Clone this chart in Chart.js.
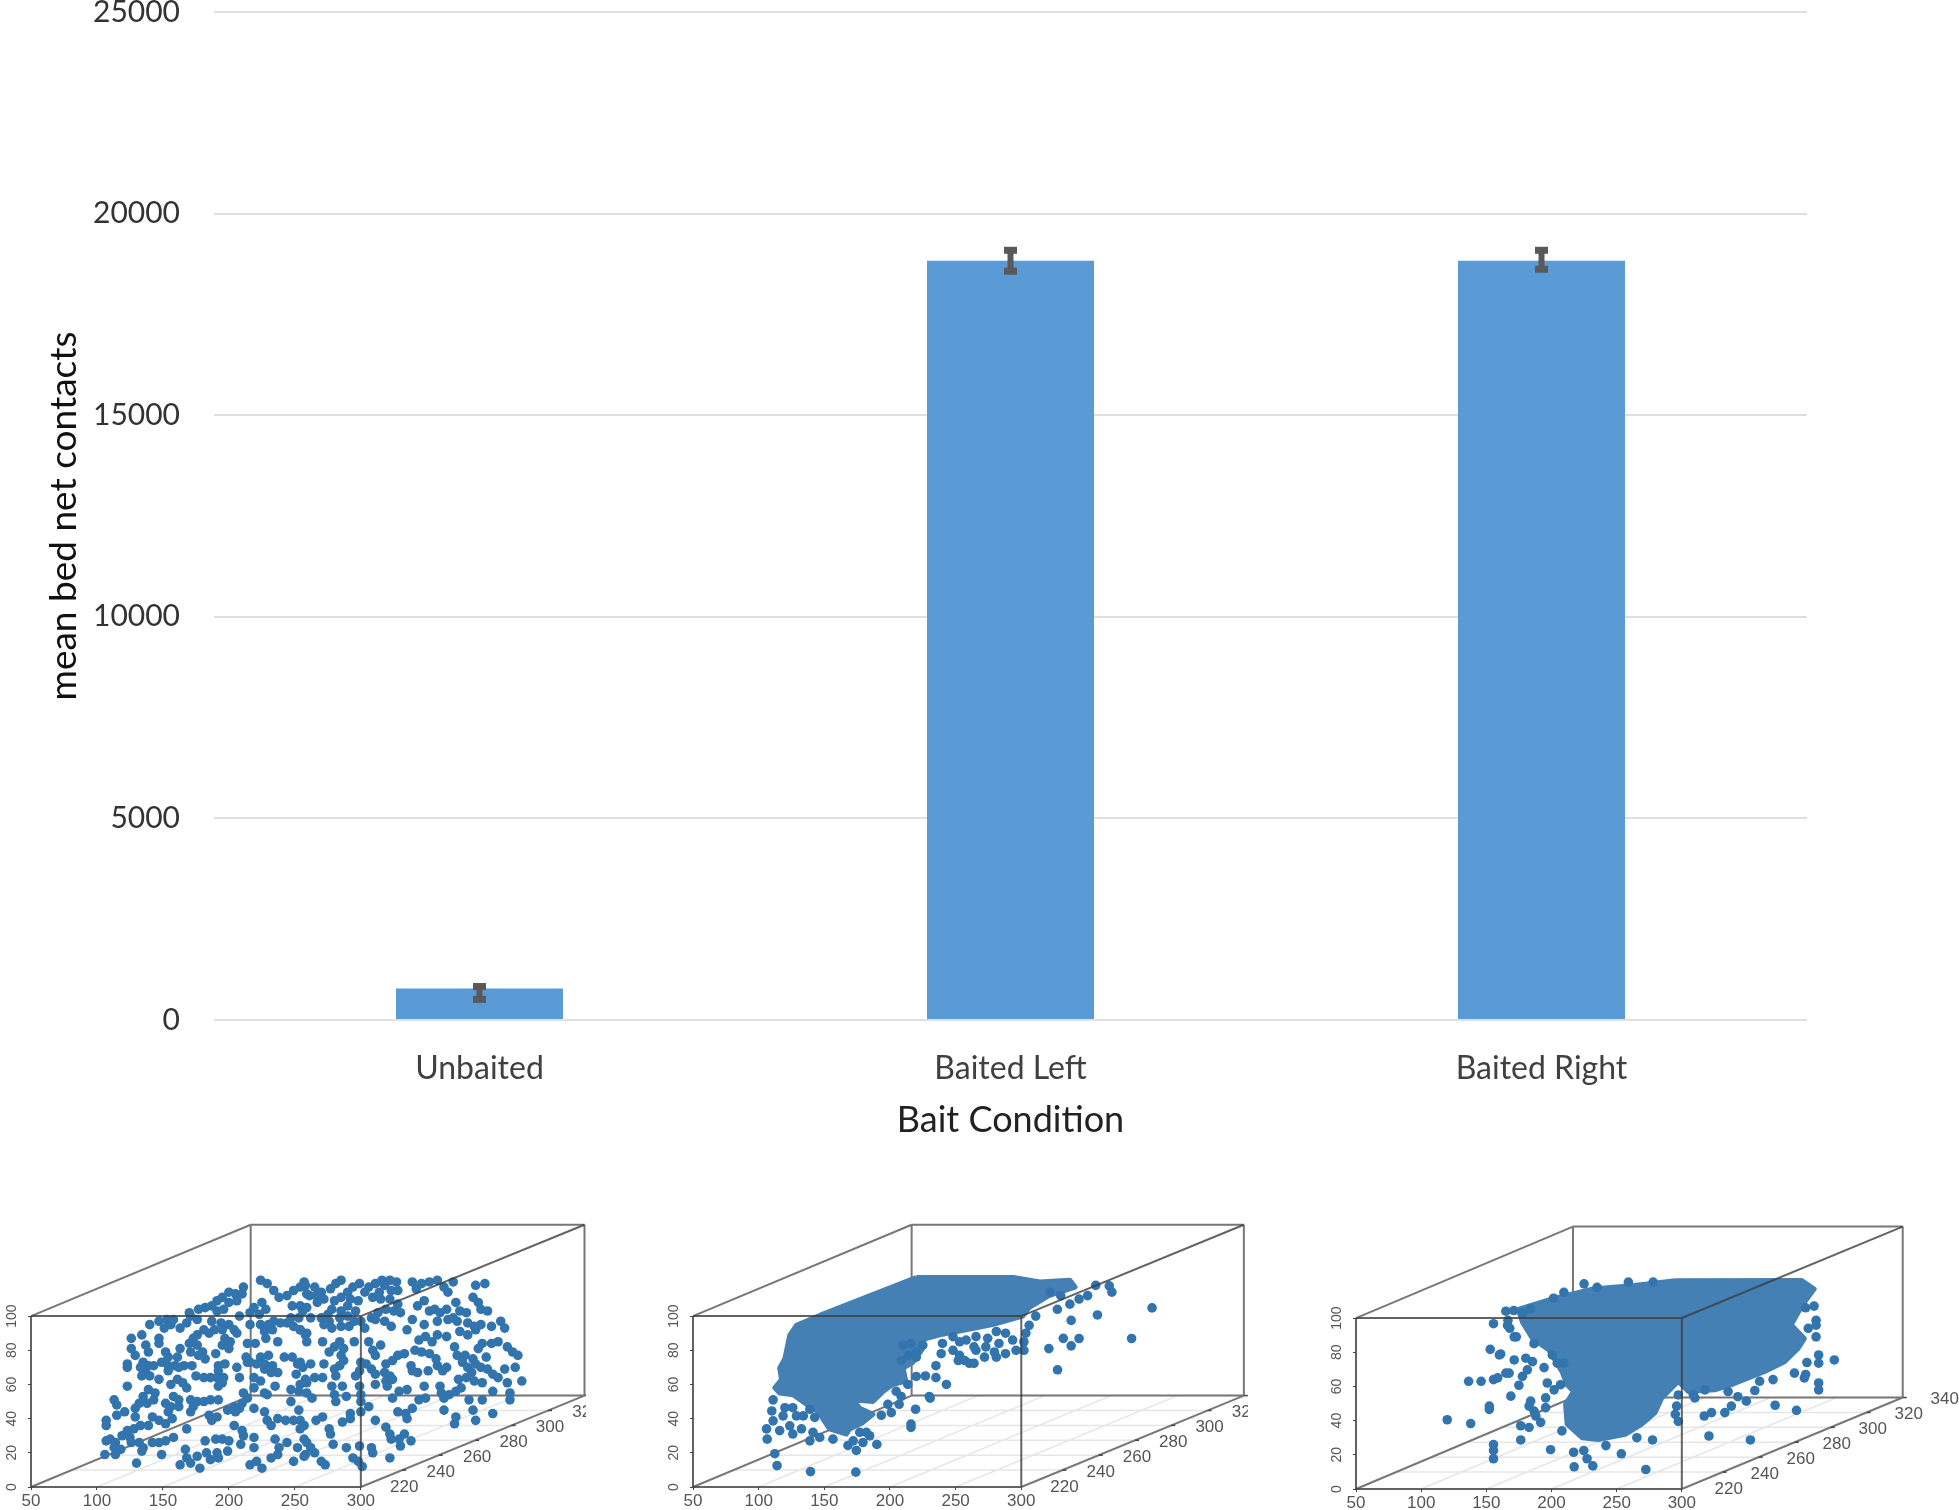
<!DOCTYPE html>
<html><head><meta charset="utf-8">
<script src="https://cdn.jsdelivr.net/npm/chart.js@4"></script>
<style>
html,body{margin:0;padding:0;background:#fff;width:1959px;height:1510px;overflow:hidden}
canvas{position:absolute;display:block}
#main{left:0;top:-40px;filter:blur(.5px)}
.mini{top:1200px;filter:blur(.7px)}
</style></head><body>
<canvas id="main" width="1959" height="1230"></canvas>
<canvas id="s1" class="mini" style="left:0" width="586" height="310"></canvas>
<canvas id="s2" class="mini" style="left:640px" width="608" height="310"></canvas>
<canvas id="s3" class="mini" style="left:1300px" width="659" height="310"></canvas>
<script>
// ---------- bar chart values ----------
const categories = ['Unbaited','Baited Left','Baited Right'];
const meanContacts = [780,18830,18830];
const errLow  = [510,18570,18620];
const errHigh = [830,19090,19090];
const yTickStep = 5000;
const yTickMax = 25000;

// ---------- 3D panel tick labels ----------
const panelXTicks = [50,100,150,200,250,300];
const panelZTicks = [0,20,40,60,80,100];
const depthTicksA = [220,240,260,280,300,320];
const depthTicksB = [220,240,260,280,300,320];
const depthTicksC = [220,240,260,280,300,320,340];

// ---------- 3D panels: points read in the plane of the front face (x 50-300, z 0-100) ----------
const unbaitedPts = [224,121,229,119,234,115,238,111,244,112,249,115,254,117,257,120,259,113,248,106,254,106,
211,117,210,113,205,113,200,114,195,111,191,109,187,106,182,105,177,104,170,102,206,109,200,108,191,103,196,104,219,105,225,108,228,104,216,102,223,101,208,100,
140,95,147,97,153,98,158,98,151,93,156,95,163,93,168,96,171,100,176,98,187,97,194,96,200,95,204,92,206,90,181,92,176,89,185,90,189,92,195,92,197,87,201,85,200,81,195,83,216,95,224,95,230,95,234,97,239,96,244,96,249,94,254,92,259,90,253,99,247,99,233,92,227,91,
126,87,134,89,147,87,147,84,137,83,139,79,126,81,129,77,163,81,170,84,176,83,173,87,180,79,177,77,182,75,171,79,152,79,154,76,161,76,190,78,214,84,220,84,228,87,237,85,213,76,214,73,216,73,
123,72,123,70,135,73,139,71,143,71,133,70,137,67,134,65,140,65,147,63,149,73,154,71,159,71,166,71,172,71,154,68,162,70,192,71,197,72,192,68,191,64,196,64,195,61,192,59,175,65,181,64,186,64,206,70,208,64,221,72,227,72,224,76,230,77,242,76,248,76,252,72,256,70,237,67,232,67,227,69,233,71,251,66,
123,59,156,60,161,63,165,61,168,58,139,57,144,55,211,55,219,64,224,62,219,58,227,55,235,59,247,57,253,56,259,61,
113,51,115,48,135,53,132,49,129,46,138,49,143,51,158,53,162,51,152,49,156,47,171,51,176,50,181,50,186,51,192,51,173,47,171,44,214,52,210,49,204,47,199,45,205,44,219,46,227,44,229,54,247,50,253,45,121,44,115,42,107,39,107,36,129,41,142,41,154,44,147,39,152,37,157,40,162,47,185,42,187,39,191,41,208,46,229,39,232,36,237,40,243,39,249,39,257,36,
123,33,128,34,133,36,139,36,119,30,125,29,126,26,168,34,204,36,210,33,211,30,219,29,110,28,107,27,114,26,118,22,113,23,114,19,106,19,132,26,135,23,142,26,147,26,152,27,158,29,134,21,149,19,167,22,182,27,190,28,195,28,200,27,209,25,219,23,235,28,238,23,244,26,252,23,257,28,
130,14,183,20,191,20,199,21,186,16,192,17,176,18,168,17,163,13,171,14,178,11,216,13,221,15,225,11,232,17,237,19,249,15,257,18,
285,121,281,119,299,119,294,117,290,114,277,116,265,117,258,118,270,114,266,112,261,112,316,121,322,121,327,120,311,119,318,118,306,117,303,114,323,115,328,115,314,114,339,120,346,119,352,120,358,121,370,120,363,117,366,114,342,116,387,118,394,119,
285,111,280,109,292,110,298,109,290,106,272,110,267,108,259,105,256,103,278,104,275,101,285,103,296,103,309,111,315,110,322,110,328,107,319,104,313,102,308,99,325,103,330,102,343,106,348,109,352,103,356,104,360,102,372,108,375,103,380,102,385,111,389,108,391,104,396,103,365,104,370,99,
262,99,270,99,276,97,284,99,290,100,295,97,300,97,272,95,278,93,285,94,291,94,303,93,311,98,318,97,323,94,339,98,348,95,335,92,358,97,366,98,373,97,381,96,386,94,391,95,399,94,406,97,409,93,
254,92,258,89,259,85,271,85,284,85,287,81,280,82,295,85,306,85,315,83,344,86,349,88,354,85,358,89,365,88,375,91,381,89,387,92,392,84,399,84,404,85,371,82,389,81,411,82,415,79,419,77,
276,79,285,77,287,74,284,71,309,80,311,77,300,73,328,77,333,78,341,80,346,79,352,78,319,72,324,74,357,75,373,77,379,77,377,73,385,75,387,72,395,76,358,71,365,70,391,70,
254,73,262,72,272,72,280,69,281,65,299,68,304,72,308,69,311,66,338,71,339,68,343,67,351,68,362,68,381,70,384,67,396,69,400,66,409,69,417,70,318,67,322,65,
258,63,265,64,271,64,296,65,319,62,324,63,380,64,386,62,392,61,404,64,411,61,422,62,374,63,254,60,278,59,286,59,299,59,311,60,320,59,348,59,360,59,376,58,
259,55,263,52,280,54,281,50,289,53,300,54,300,50,329,56,335,57,324,52,344,51,349,52,361,55,363,52,367,54,372,56,382,51,392,51,400,56,413,55,413,51,
306,47,300,44,292,43,328,44,334,43,339,46,335,40,363,45,385,45,400,43,372,41,371,37,387,39,271,41,266,39,286,38,292,40,254,39,311,39,276,34,277,31,254,34,319,35,322,31,323,28,333,31,329,28,338,27,330,24,
259,26,262,23,279,25,289,23,299,24,308,23,309,20,322,17,294,17,298,15,265,20,258,19,270,15,273,13,301,12];

const leftCloud = [220,122.6,294,122.6,314,120,337,121,341,117,321,112,306,105,301,100,278,95,258,92,238,89,228,87,220,84,225,81,217.4,73,210,69.6,212,62,202,60,195,56,187,50,172,51,177,46,187,42.6,179.4,37.8,169.3,34,166.8,31,154,34,149,39.7,146.5,43.5,136.4,48.4,126.2,54,116,55,112.3,58,117.4,62.8,116,69.6,120,75.3,123.7,88.8,128.8,94.6,146.5,100.4,220,122.6];
const leftPts = [399.6,104.8,384,86.9,358,100.7,344,86.9,338,82.6,332,87,338,97.5,327.5,104,337,107,350.5,112,356.7,118,367,117.7,369,114,344,110,330,112,322,114,
174,8.7,139.5,9,114,12.5,
210,83,216,84,225,83,220,79,214,77,208.5,74,220,76,239,78,235,71,227,65,235,64,243,60,230.6,52,230,53,219.5,45.5,216,36.8,216,34.9,190,24.9,253,85,248,80,240,84,248,88,253,77,257,74,260.5,72.4,264,72.4,252,74,265.5,80,264,82,272,76,281,76,279.5,79,288,78,296,80,302,80,293.4,86,302,85,303.5,90,306,94.6,311,100,321,81,327.6,68.6,283,84,274.4,87,265.5,88,258,86,281,91,288,90,273,82,220,64.7,213.6,60,207,48.4,201,43.5,193.4,42,208.5,53,204.7,56,198.4,48.4,106,34,106.5,28,112.3,19.5,116,33,123.7,35.8,126,31,132.6,34,128.8,41.6,118.6,41.6,111,38.7,110,44.5,111,51,139,27,146.5,29,156.6,28,141.4,32,134,41.6,142.7,40.7,120,46.4,126,46.4,139,45.5,168,24.3,174.4,21.4,179.4,26,184.5,30,177,32,172,27,182,32];

const rightCloud = [295,121.8,392,122,401.5,117,392,107,384,96,394,88,389,82,378.8,74.5,363.5,68.8,338,61,325.3,58,305,57,297.3,63,284.6,53.3,279.5,44.7,269.3,38,256.6,32,236,29,223.5,30,212,38,210.8,49.5,217,57,212,61,208,68.8,198,81.3,185.4,88,177.7,97.6,174.5,105,200,111,232,117,263.5,119,295,121.8];
const rightPts = [120,40.5,138,38.3,136.4,63,146,63,155.5,64,158.7,65,152.3,48.5,152.3,46.6,153,81.7,160,78.4,155.5,96.7,155.5,26,155.5,22.5,155.5,17.7,217.4,13,231.7,13.5,272.4,11.4,166.6,98.7,168,94,173,89,165,104,388,46,394,65,395,67,405,62,405,58,417,75.5,405,78.4,405,73.6,396,74,403,89,403,98.7,403,95.8,401.5,107,395,106,397,94,225,120,235,118,259,121,278,121,209.5,115,201.6,111.6,184,105.4,171,104.4,178,103,
171.4,75.5,161,79,167.5,67.8,165,67.8,177.7,65.9,181.5,69.7,185.4,74.5,180.3,76.5,194.3,71,175,60.7,168.8,54.3,196.8,62,202,58,207,61,184,51.4,182.8,48.5,195.5,53.3,195.5,47.6,186.6,45.6,188,42.7,176.4,37,182.8,36,191.7,39,176.4,28.7,199.3,23,217,21.5,224.8,22.5,227.3,17.7,241.8,25.4,253.6,20.6,265.5,30,277.5,28.7,320.8,31,352.6,28.7,371.6,49,317.2,42.7,322.8,44.7,333,44.7,338,48.5,335.5,57,356,57.6,349.5,51.4,343,54,370,64,359.7,63,386.4,67.8,297.3,55,296,48.5,295,43.7,297.3,39.5,310,53.3,171.4,89,166.3,95.7,186.6,85,208,34,200.6,78.4,204.4,73.6,209.5,73.6,308.8,55.3,317.7,58];

// ---------- projection of the slightly perspective box, in the same plane units ----------
const depthDXLeft = 166.5, depthDXRight = 169.5, depthDZ = 53.5;
const depthStep = 0.00815, depthBack = 320;
const depthT = d => 1 - (depthBack - d) * depthStep;
const shiftAt = v => depthDXLeft + (v - 50) / 250 * (depthDXRight - depthDXLeft);

function pairs(a){const o=[];for(let i=0;i<a.length;i+=2)o.push({x:a[i],y:a[i+1]});return o;}
function segs(list){const o=[];list.forEach(s=>{o.push({x:s[0],y:s[1]},{x:s[2],y:s[3]},{x:NaN,y:NaN});});return o;}

const lineDs=(data,color,w,order)=>({data,showLine:true,spanGaps:false,borderColor:color,borderWidth:w,pointRadius:0,clip:false,order,fill:false});

const depthLabels={id:'depthLabels',afterDatasetsDraw(c,_,o){
  const {ctx,scales:{x,y}}=c;ctx.save();
  ctx.font='17px "Liberation Sans"';ctx.fillStyle='#555';ctx.textAlign='center';ctx.textBaseline='middle';
  ctx.strokeStyle='#444';ctx.lineWidth=1.5;
  o.ticks.forEach(d=>{const t=depthT(d);
    const px=x.getPixelForValue(300+t*depthDXRight),py=y.getPixelForValue(t*depthDZ);
    if(t<=1.001){ctx.beginPath();ctx.moveTo(px,py);ctx.lineTo(px+4,py);ctx.stroke();}
    ctx.fillText(String(d),px+o.dx,py+17);});
  ctx.restore();}};

function panel(id,pts,cloud,dTicks,yw,xh,xMax,yMax,labelDx){
  const L=50+depthDXLeft,R=300+depthDXRight,T=100+depthDZ;
  const back=[[L,depthDZ,R,depthDZ],[R,depthDZ,R,T],[R,T,L,T],[L,T,L,depthDZ],[50,100,L,T],[300,0,R,depthDZ],[50,0,L,depthDZ]];
  const front=[[50,0,300,0],[300,0,300,100],[300,100,50,100],[50,100,50,0],[300,100,R,T]];
  const grid=[];
  panelXTicks.slice(1,-1).forEach(v=>grid.push([v,0,v+shiftAt(v),depthDZ]));
  dTicks.filter(d=>d<=depthBack&&d>=220).forEach(d=>{const t=depthT(d);grid.push([50+t*depthDXLeft,t*depthDZ,300+t*depthDXRight,t*depthDZ]);});
  const ds=[lineDs(segs(grid),'#e6e6e6',1.5,6),lineDs(segs(back),'#777',2,5)];
  if(cloud){const c=lineDs(pairs(cloud),'#4580b5',5,4);c.fill='shape';c.backgroundColor='#4580b5';c.borderJoinStyle='round';ds.push(c);}
  ds.push({data:pairs(pts),pointRadius:4.8,pointBackgroundColor:'#3274ad',pointBorderWidth:0,showLine:false,clip:false,order:3});
  ds.push(lineDs(segs(front),'rgba(60,60,60,.8)',2,1));
  new Chart(document.getElementById(id),{type:'scatter',data:{datasets:ds},plugins:[depthLabels],options:{
    responsive:false,animation:false,devicePixelRatio:1,layout:{padding:0},
    plugins:{legend:{display:false},tooltip:{enabled:false},depthLabels:{ticks:dTicks,dx:labelDx}},
    scales:{
      x:{type:'linear',min:50,max:xMax,border:{display:false},grid:{drawOnChartArea:false,color:'#444',tickLength:3},
        afterBuildTicks:s=>{s.ticks=panelXTicks.map(v=>({value:v}));},afterFit:s=>{s.height=xh;},
        ticks:{color:'#555',padding:1,font:{family:'Liberation Sans',size:17},maxRotation:0,autoSkip:false}},
      y:{type:'linear',min:0,max:yMax,border:{display:false},grid:{drawOnChartArea:false,color:'#444',tickLength:3},
        afterBuildTicks:s=>{s.ticks=panelZTicks.map(v=>({value:v}));},afterFit:s=>{s.width=yw;},
        ticks:{color:'#555',padding:4,minRotation:90,maxRotation:90,crossAlign:'center',font:{family:'Liberation Sans',size:14},autoSkip:false}}
    }}});
}

// ---------- main bar chart ----------
const errorBars={id:'errorBars',afterDatasetsDraw(c){
  const {ctx,scales:{y}}=c,meta=c.getDatasetMeta(0);ctx.save();ctx.fillStyle='#595959';
  meta.data.forEach((b,i)=>{const a=y.getPixelForValue(errHigh[i]),d=y.getPixelForValue(errLow[i]);
    ctx.fillRect(b.x-3,a,6,d-a);ctx.fillRect(b.x-6.5,a-3.5,13,7);ctx.fillRect(b.x-6.5,d-3.5,13,7);});
  ctx.restore();}};

new Chart(document.getElementById('main'),{type:'bar',plugins:[errorBars],
  data:{labels:categories,datasets:[{data:meanContacts,backgroundColor:'#5B9BD5',barPercentage:.3145,categoryPercentage:1}]},
  options:{responsive:false,animation:false,devicePixelRatio:1,
    layout:{padding:{top:11,right:152,bottom:0,left:0}},
    plugins:{legend:{display:false},tooltip:{enabled:false}},
    scales:{
      x:{border:{display:false},grid:{display:false,drawTicks:false},afterFit:s=>{s.height=170;},
        ticks:{color:'#404040',padding:29,font:{family:'Lato',size:32}},
        title:{display:true,text:'Bait Condition',color:'#222',font:{family:'Lato',size:36},padding:{top:0,bottom:48}}},
      y:{min:0,max:yTickMax,border:{display:false},grid:{color:'#e0e0e0',lineWidth:2,drawTicks:false},afterFit:s=>{s.width=214;},
        ticks:{stepSize:yTickStep,color:'#333',padding:34,font:{family:'Lato',size:30},callback:v=>String(v)},
        title:{display:true,text:'mean bed net contacts',color:'#111',font:{family:'Lato',size:37},padding:{top:42,bottom:0}}}
    }}});

panel('s1',unbaitedPts,null,depthTicksA,31,23,467,160.7,2);
panel('s2',leftPts,leftCloud,depthTicksB,53,23,469,160.7,2);
panel('s3',rightPts,rightCloud,depthTicksC,56,21,509,161.8,6);
</script>
</body></html>
